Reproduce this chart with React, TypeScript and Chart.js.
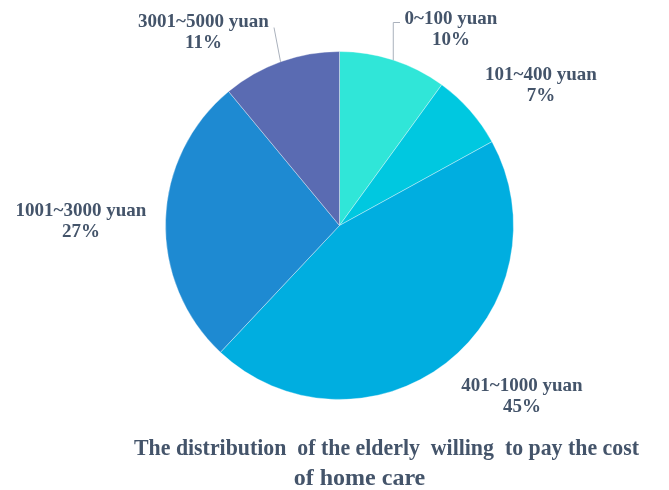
import React, { useEffect, useRef } from "react";
import { Chart, registerables } from "chart.js";

Chart.register(...registerables);

const categories = ["0~100 yuan", "101~400 yuan", "401~1000 yuan", "1001~3000 yuan", "3001~5000 yuan"];
const shares = [10, 7, 45, 27, 11];
const sliceColors = ["#30e6d8", "#00c8e0", "#00aee0", "#1e8ad2", "#5a6bb2"];
const titleLines = ["The distribution  of the elderly  willing  to pay the cost", "of home care"];

// label anchor offsets from pie centre (baseline of first line)
const labelOffsets: [number, number][] = [
  [111.5, -202],
  [201.5, -146],
  [182.5, 165],
  [-258.5, -10],
  [-136, -199],
];
// leader lines: null, or {type, end offset from label anchor}
const leaders: ({ type: string; dx: number; dy: number } | null)[] = [
  { type: "elbow", dx: -51, dy: -1 },
  null,
  null,
  null,
  { type: "straight", dx: 70.5, dy: 1 },
];

const TEXT_COLOR = "#44546a";

const labelPlugin = {
  id: "customLabels",
  afterDraw(chart: any) {
    const ctx = chart.ctx;
    const meta = chart.getDatasetMeta(0);
    const total = shares.reduce((a, b) => a + b, 0);
    ctx.save();
    meta.data.forEach((arc: any, i: number) => {
      const { x, y, startAngle, endAngle, outerRadius } = arc.getProps(
        ["x", "y", "startAngle", "endAngle", "outerRadius"],
        true
      );
      const mid = (startAngle + endAngle) / 2;
      const lx = x + labelOffsets[i][0];
      const ly = y + labelOffsets[i][1];
      const ld = leaders[i];
      if (ld) {
        const sx = x + Math.cos(mid) * outerRadius;
        const sy = y + Math.sin(mid) * outerRadius;
        ctx.strokeStyle = "#aab1bc";
        ctx.lineWidth = 1;
        ctx.beginPath();
        ctx.moveTo(sx, sy);
        if (ld.type === "elbow") {
          ctx.lineTo(sx, ly + ld.dy);
          ctx.lineTo(lx + ld.dx, ly + ld.dy);
        } else {
          ctx.lineTo(lx + ld.dx, ly + ld.dy);
        }
        ctx.stroke();
      }
      ctx.fillStyle = TEXT_COLOR;
      ctx.font = "bold 19px 'Liberation Serif', 'Times New Roman', serif";
      ctx.textAlign = "center";
      ctx.textBaseline = "alphabetic";
      ctx.fillText(categories[i], lx, ly);
      const pct = Math.round((shares[i] / total) * 100) + "%";
      ctx.fillText(pct, lx, ly + 21);
    });
    // title
    ctx.fillStyle = TEXT_COLOR;
    ctx.font = "bold 24px 'Liberation Serif', 'Times New Roman', serif";
    ctx.textAlign = "center";
    ctx.fillText(titleLines[0], 386.5, 455, 505);
    ctx.fillText(titleLines[1], 359.5, 485);
    ctx.restore();
  },
};

export default function App() {
  const ref = useRef<HTMLCanvasElement | null>(null);
  useEffect(() => {
    if (!ref.current) return;
    const chart = new Chart(ref.current, {
      type: "pie",
      data: {
        labels: categories,
        datasets: [
          {
            data: shares,
            backgroundColor: sliceColors,
            borderColor: "rgba(255,255,255,0.35)",
            borderWidth: 1,
          },
        ],
      },
      options: {
        animation: false,
        responsive: true,
        maintainAspectRatio: false,
        layout: { padding: { top: 51, bottom: 90, left: 165, right: 155 } },
        plugins: {
          legend: { display: false },
          tooltip: { enabled: false },
          title: { display: false },
        },
      },
      plugins: [labelPlugin],
    });
    return () => chart.destroy();
  }, []);
  return (
    <div style={{ position: "fixed", left: 0, top: 0, width: 669, height: 490, background: "#ffffff" }}>
      <canvas ref={ref} />
    </div>
  );
}
